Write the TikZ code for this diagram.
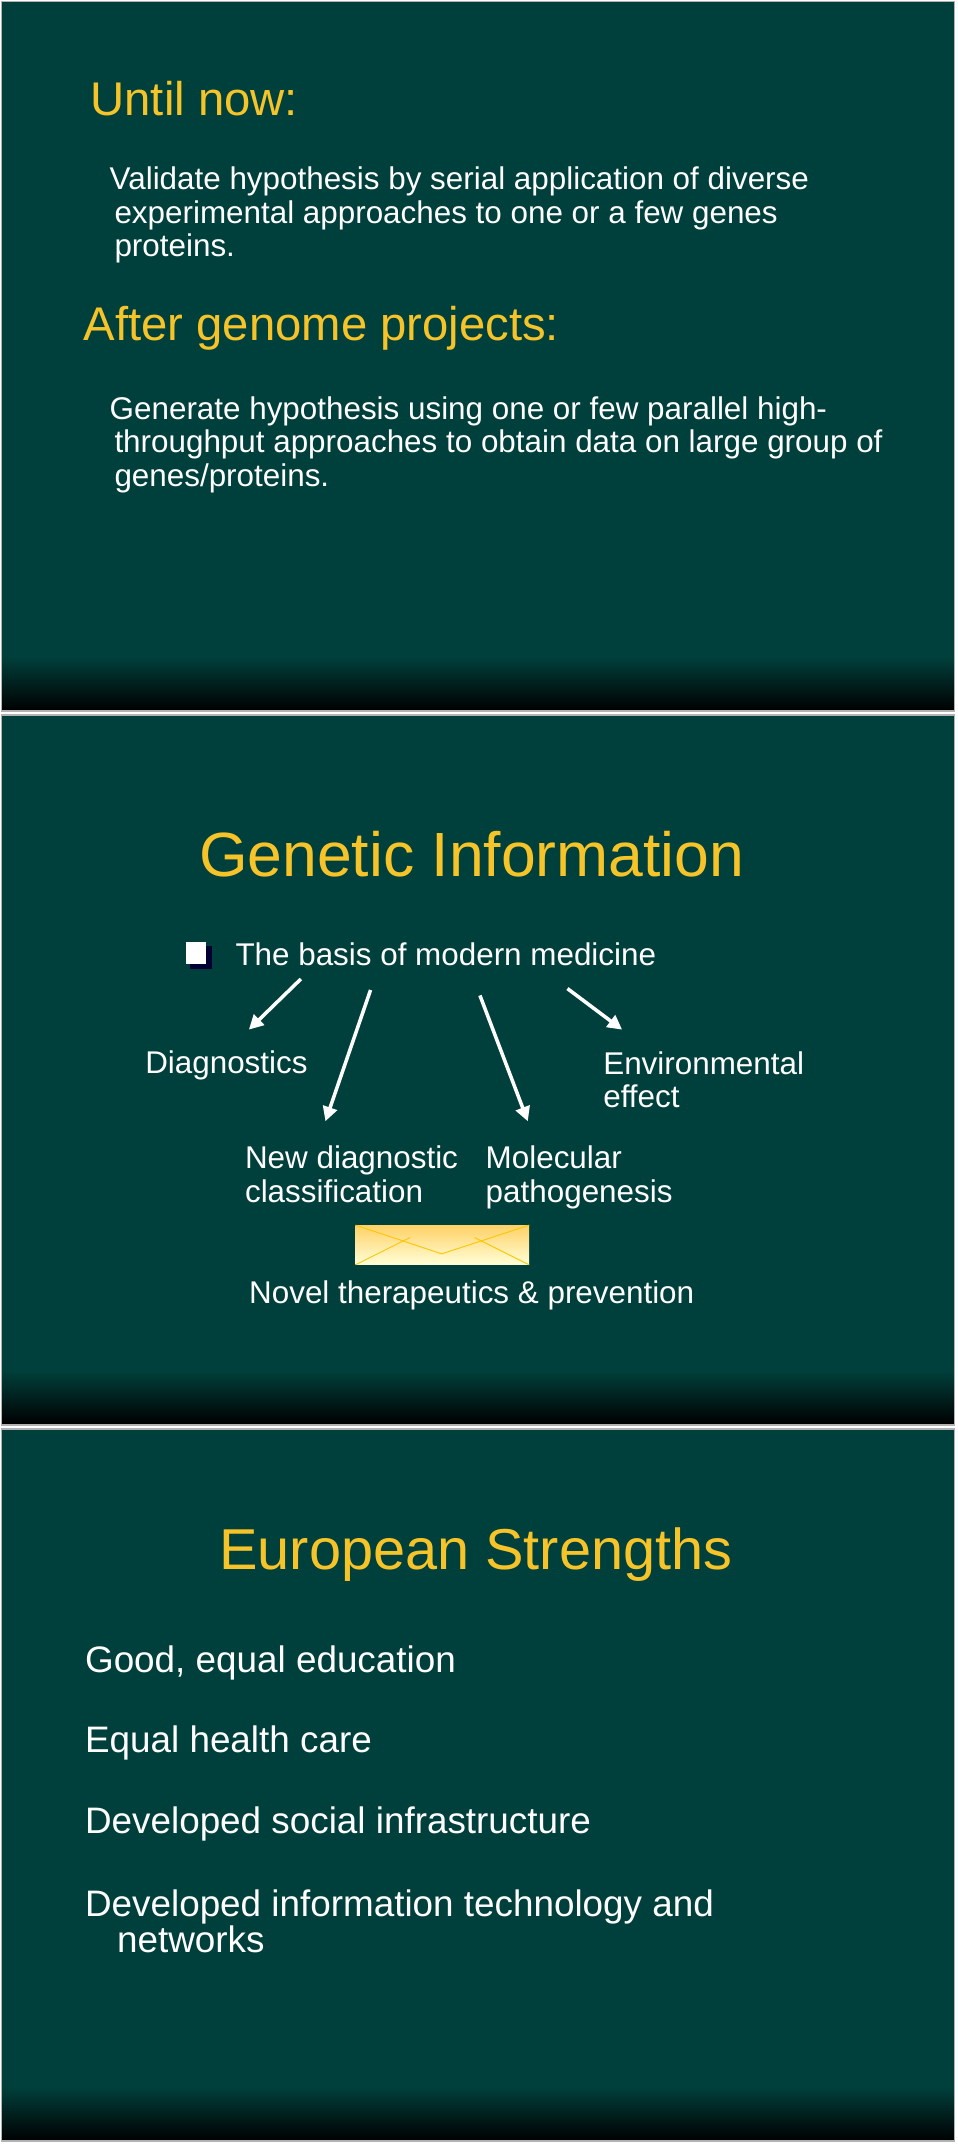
\documentclass[tikz,border=0pt]{standalone}
\usepackage{fontspec}
\setmainfont{Liberation Sans}
\usetikzlibrary{arrows.meta}
\definecolor{slidebg}{RGB}{0,64,60}
\definecolor{titleyel}{RGB}{246,196,40}
\tikzset{
  title/.style={text=titleyel, font=\fontsize{29.5}{32}\selectfont, anchor=west, inner sep=0pt},
  bigtitle/.style={text=titleyel, font=\fontsize{39}{44}\selectfont, inner sep=0pt},
  body/.style={text=white, font=\fontsize{19.6}{20.8}\selectfont, anchor=north west, align=left, inner sep=0pt},
  item/.style={body, font=\fontsize{23}{21}\selectfont},
  arrw/.style={white, line width=2.2pt, -{Triangle[length=9pt,width=9pt]}}
}
\begin{document}
\begin{tikzpicture}[x=0.03cm, y=-0.03cm]
  \useasboundingbox (0,0) rectangle (700,1568);
  % slides
  \foreach \t/\b in {0/521, 522/1043, 1044/1567}{
    \fill[slidebg] (1,\t+1) rectangle (698,\b-40);
    \shade[top color=slidebg, bottom color=black] (1,\b-41) rectangle (698,\b-1);
    \draw[gray!60, line width=1pt] (1,\t+1) rectangle (698,\b-1);
  }
  % slide 1
  \node[title] (until) at (66,72) {Until now:};
  \node[body] (validate) at (80,122) {Validate hypothesis by serial application of diverse\\
    \hspace{3pt}experimental approaches to one or a few genes\\ \hspace{3pt}proteins.};
  \node[title] (after) at (61,240) {After genome projects:};
  \node[body] (generate) at (80,290) {Generate hypothesis using one or few parallel high-\\
    \hspace{3pt}throughput approaches to obtain data on large group of\\ \hspace{3pt}genes/proteins.};
  % slide 2
  \node[bigtitle] (genetic) at (345,625) {Genetic Information};
  \fill[blue!20!black] (139,692) rectangle (155,709);
  \fill[white] (136,689) rectangle (151,705);
  \node[body, anchor=west] (basis) at (172,698) {The basis of modern medicine};
  \node[body, anchor=west] (diag) at (106,779) {Diagnostics};
  \node[body] (env) at (441,769) {Environmental\\effect};
  \node[body] (newdiag) at (179,838) {New diagnostic\\classification};
  \node[body] (molec) at (355,838) {Molecular\\pathogenesis};
  \draw[arrw] (220,716) -- (182,753);
  \draw[arrw] (271,724) -- (238,820);
  \draw[arrw] (351,728) -- (386,820);
  \draw[arrw] (415,723) -- (455,753);
  \shade[top color=yellow!40!orange!60, bottom color=yellow!15] (260,896) rectangle (387,925);
  \draw[yellow!60!orange, line width=0.6pt] (260,896) -- (323,917) -- (387,896);
  \draw[yellow!60!orange, line width=0.6pt] (260,925) -- (300,905) (387,925) -- (347,905);
  \node[body, anchor=west] (novel) at (182,947) {Novel therapeutics \& prevention};
  % slide 3
  \node[bigtitle, font=\fontsize{36}{40}\selectfont] (euro) at (348,1137) {European Strengths};
  \node[item, anchor=west] (good) at (62,1216) {Good, equal education};
  \node[item, anchor=west] (health) at (62,1275) {Equal health care};
  \node[item, anchor=west] (social) at (62,1334) {Developed social infrastructure};
  \node[item] (infotech) at (62,1382) {Developed information technology and\\
    \hspace{20pt}networks};
\end{tikzpicture}
\end{document}
